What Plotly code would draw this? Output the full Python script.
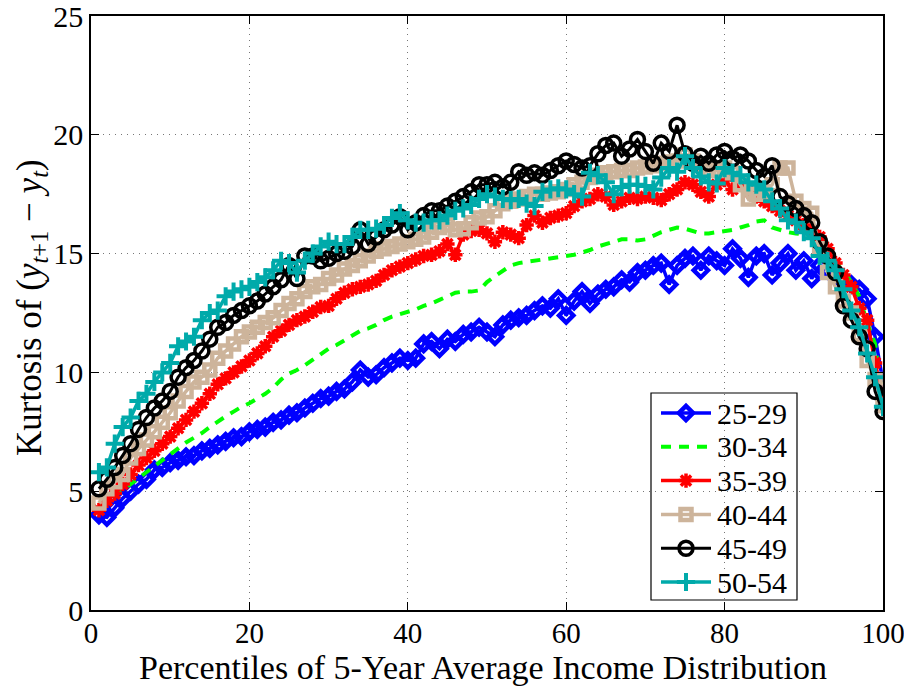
import plotly.graph_objects as go

percentiles = list(range(1, 101))

age_25_29 = [4.0, 3.9, 4.3, 4.7, 5.0, 5.3, 5.5, 5.9, 6.0, 6.2,
             6.3, 6.45, 6.5, 6.7, 6.8, 6.95, 7.1, 7.25, 7.3, 7.5,
             7.6, 7.7, 7.9, 8.0, 8.2, 8.3, 8.5, 8.7, 8.9, 9.0,
             9.2, 9.3, 9.6, 10.1, 9.8, 9.9, 10.2, 10.4, 10.6, 10.5,
             10.6, 11.2, 11.3, 11.0, 11.4, 11.3, 11.6, 11.7, 11.9, 11.7,
             11.5, 12.0, 12.2, 12.3, 12.4, 12.6, 12.8, 12.7, 13.1, 12.4,
             13.0, 13.4, 12.9, 13.3, 13.5, 13.6, 13.9, 13.8, 14.2, 14.3,
             14.5, 14.6, 13.7, 14.5, 14.8, 14.9, 14.3, 14.9, 14.7, 14.5,
             15.2, 14.8, 14.0, 14.9, 15.0, 14.1, 14.6, 15.0, 14.3, 14.7,
             13.95, 14.5, 14.3, 14.1, 13.8, 13.7, 13.5, 13.1, 11.5, 9.6]

age_30_34 = [4.3, 4.5, 4.8, 5.05, 5.3, 5.6, 5.85, 6.1, 6.35, 6.6,
             6.8, 7.05, 7.25, 7.45, 7.7, 7.95, 8.15, 8.35, 8.55, 8.7,
             8.9, 9.1, 9.35, 9.7, 9.95, 10.1, 10.3, 10.55, 10.8, 11.0,
             11.15, 11.35, 11.55, 11.75, 11.85, 12.0, 12.2, 12.35, 12.45, 12.55,
             12.65, 12.8, 12.9, 13.05, 13.2, 13.35, 13.4, 13.4, 13.45, 13.8,
             14.05, 14.3, 14.5, 14.6, 14.65, 14.7, 14.75, 14.8, 14.85, 14.9,
             14.95, 15.05, 15.15, 15.3, 15.4, 15.5, 15.6, 15.6, 15.55, 15.6,
             15.75, 15.9, 16.0, 16.1, 16.05, 15.95, 15.85, 15.85, 15.9, 15.95,
             16.0, 16.1, 16.2, 16.35, 16.4, 16.1, 16.0, 15.9, 15.85, 15.8,
             15.7, 15.4, 15.0, 14.7, 14.3, 13.8, 13.2, 12.1, 11.2, 8.8]

age_35_39 = [4.2, 4.6, 4.9, 5.3, 5.7, 6.1, 6.4, 6.7, 7.0, 7.3,
             7.65, 8.0, 8.35, 8.7, 9.1, 9.5, 9.75, 10.0, 10.25, 10.5,
             10.8, 11.1, 11.5, 11.75, 12.0, 12.2, 12.35, 12.55, 12.75, 12.8,
             13.1, 13.35, 13.5, 13.6, 13.7, 13.85, 14.1, 14.3, 14.45, 14.6,
             14.75, 14.9, 14.95, 15.1, 15.4, 14.95, 15.8, 15.95, 16.0, 15.85,
             15.5, 15.9, 15.8, 15.65, 16.2, 16.6, 16.3, 16.5, 16.6, 16.7,
             17.0, 17.2, 17.3, 17.5, 17.4, 17.05, 17.2, 17.35, 17.3, 17.4,
             17.35, 17.25, 17.5, 17.7, 18.0, 17.9, 17.6, 17.4, 17.9, 18.1,
             17.7, 17.9, 17.6, 17.4, 17.2, 17.0, 16.8, 16.6, 16.4, 16.2,
             15.95, 15.7, 15.2, 14.6, 14.1, 13.6, 12.7, 12.2, 10.4, 9.0]

age_40_44 = [4.5, 5.1, 5.4, 5.7, 6.4, 6.8, 7.15, 7.5, 7.9, 8.3,
             8.8, 9.2, 9.6, 9.8, 10.1, 10.6, 10.9, 11.2, 11.5, 11.7,
             11.9, 12.1, 12.3, 12.6, 12.9, 13.1, 13.4, 13.6, 13.7, 13.95,
             14.1, 14.35, 14.5, 14.7, 14.9, 15.1, 15.2, 15.3, 15.4, 15.5,
             15.6, 15.7, 15.9, 16.1, 16.2, 16.0, 16.05, 16.3, 16.5, 16.55,
             16.8, 17.1, 17.2, 17.3, 17.4, 17.5, 17.5, 17.55, 17.6, 17.7,
             17.9, 18.0, 18.2, 18.3, 18.4, 18.45, 18.5, 18.5, 18.6, 18.65,
             18.7, 18.8, 18.85, 18.9, 19.15, 18.9, 18.7, 18.5, 18.5, 18.6,
             18.4, 17.9, 17.3, 17.5, 17.6, 17.9, 18.6, 18.6, 17.2, 16.9,
             16.7, 15.2, 14.2, 13.6, 13.0, 12.5, 11.6, 10.5, 9.7, 8.6]

age_45_49 = [5.1, 5.5, 6.0, 6.5, 7.0, 7.6, 8.1, 8.5, 8.8, 9.2,
             9.8, 10.2, 10.5, 10.9, 11.4, 11.9, 12.1, 12.4, 12.6, 12.8,
             13.0, 13.3, 13.6, 13.9, 14.5, 13.95, 14.9, 14.9, 14.7, 14.8,
             15.0, 15.1, 15.3, 16.0, 15.4, 15.7, 16.0, 16.2, 16.55, 16.0,
             16.3, 16.6, 16.8, 16.8, 17.0, 17.2, 17.4, 17.6, 17.9, 17.9,
             18.0, 17.8, 18.0, 18.45, 18.3, 18.4, 18.3, 18.5, 18.7, 18.9,
             18.75, 18.6, 18.7, 19.2, 19.55, 19.65, 19.1, 19.4, 19.8, 19.3,
             18.8, 19.65, 19.3, 20.4, 19.2, 18.8, 19.1, 18.8, 19.15, 19.3,
             19.0, 19.15, 18.9, 18.5, 18.25, 18.7, 17.4, 17.1, 16.9, 16.6,
             16.3, 15.5, 14.9, 14.2, 12.8, 12.2, 11.5, 11.0, 9.2, 8.35]

age_50_54 = [5.8, 6.0, 7.0, 7.7, 8.1, 8.8, 9.1, 9.6, 10.0, 10.4,
             11.1, 11.3, 11.5, 12.2, 12.5, 12.6, 13.2, 13.4, 13.5, 13.6,
             13.8, 14.0, 14.3, 14.7, 14.6, 14.2, 14.7, 15.0, 15.3, 15.5,
             15.4, 15.4, 15.7, 16.0, 16.0, 16.05, 16.2, 16.5, 16.7, 16.4,
             16.3, 16.3, 16.4, 16.4, 16.6, 16.8, 16.9, 17.05, 17.3, 17.5,
             17.4, 17.3, 17.25, 17.3, 17.1, 17.0, 17.6, 17.7, 17.75, 17.7,
             17.5, 17.4, 18.4, 18.3, 18.0, 17.5, 17.8, 17.9, 17.9, 17.85,
             17.7, 18.2, 18.6, 18.45, 19.1, 18.6, 18.25, 18.0, 17.95, 18.6,
             18.4, 18.3, 18.0, 17.9, 17.7, 17.2, 16.9, 16.4, 16.3, 15.9,
             15.65, 14.9, 14.7, 14.3, 13.5, 12.6, 11.9, 10.8, 9.8, 8.55]

series_names = ["25-29", "30-34", "35-39", "40-44", "45-49", "50-54"]
x_ticks = [0, 20, 40, 60, 80, 100]
y_ticks = [0, 5, 10, 15, 20, 25]

styles = [
    dict(line=dict(color="#0000ff", width=3.5),
         marker=dict(symbol="diamond-open", size=11, color="#0000ff", line=dict(color="#0000ff", width=4.5))),
    dict(line=dict(color="#00ff00", width=4, dash="10px,8px"), marker=None),
    dict(line=dict(color="#ff0000", width=3.5),
         marker=dict(symbol="asterisk-open", size=12, color="#ff0000", line=dict(color="#ff0000", width=3.5))),
    dict(line=dict(color="#cdb49b", width=3.5),
         marker=dict(symbol="square-open", size=11, color="#cdb49b", line=dict(color="#cdb49b", width=4.5))),
    dict(line=dict(color="#000000", width=3),
         marker=dict(symbol="circle-open", size=14, color="#000000", line=dict(color="#000000", width=3.5))),
    dict(line=dict(color="#00aaaa", width=3.5),
         marker=dict(symbol="cross-thin-open", size=13, color="#00aaaa", line=dict(color="#00aaaa", width=4))),
]
all_series = [age_25_29, age_30_34, age_35_39, age_40_44, age_45_49, age_50_54]

fig = go.Figure()
for name, vals, st in zip(series_names, all_series, styles):
    if st["marker"] is None:
        fig.add_trace(go.Scatter(x=percentiles, y=vals, name=name, mode="lines",
                                 line=st["line"], showlegend=False))
    else:
        fig.add_trace(go.Scatter(x=percentiles, y=vals, name=name, mode="lines+markers",
                                 line=st["line"], marker=st["marker"], showlegend=False))

# ---- legend box drawn by hand (page pixels -> axis fractions) ----
PL, PR, PT, PB = 91, 883, 16, 610
def fx(px):
    return (px - PL) / (PR - PL)
def fy(py):
    return (PB - py) / (PB - PT)

leg_box = (651, 393, 797, 600)
row_y0, row_pitch = 413, 33.8
seg_x0, seg_x1, text_x = 661, 711, 715

shapes = [dict(type="rect", xref="paper", yref="paper",
               x0=fx(leg_box[0]), x1=fx(leg_box[2]), y0=fy(leg_box[3]), y1=fy(leg_box[1]),
               fillcolor="white", line=dict(color="black", width=1.2), layer="between")]
annotations = []
for i, (name, st) in enumerate(zip(series_names, styles)):
    yy = fy(row_y0 + i * row_pitch)
    fig.add_trace(go.Scatter(x=[fx(seg_x0), fx(seg_x1)], y=[yy, yy], xaxis="x2", yaxis="y2",
                             mode="lines", line=st["line"], showlegend=False, hoverinfo="skip"))
    if st["marker"] is not None:
        fig.add_trace(go.Scatter(x=[fx((seg_x0 + seg_x1) / 2)], y=[yy], xaxis="x2", yaxis="y2",
                                 mode="markers", marker=st["marker"], showlegend=False,
                                 hoverinfo="skip"))
    annotations.append(dict(xref="paper", yref="paper", x=fx(text_x), y=yy,
                            xanchor="left", yanchor="middle", text=name, showarrow=False,
                            font=dict(size=30, family="Liberation Serif, serif", color="black")))

font_family = "Liberation Serif, DejaVu Serif, serif"

annotations.append(dict(xref="paper", yref="paper", x=fx(483), y=fy(667),
                        xanchor="center", yanchor="middle", showarrow=False,
                        text="Percentiles of 5-Year Average Income Distribution",
                        font=dict(size=34, family=font_family, color="black")))
annotations.append(dict(xref="paper", yref="paper", x=fx(31), y=fy(308),
                        xanchor="center", yanchor="middle", showarrow=False, textangle=-90,
                        text="Kurtosis of (<i>y</i><sub><i>t</i>+1</sub> − <i>y</i><sub><i>t</i></sub>)",
                        font=dict(size=35, family=font_family, color="black")))

# the page has an 8px body margin, so the figure is 8px smaller and offset
fig.update_layout(
    width=904, height=679,
    margin=dict(l=83, r=29, t=8, b=77, autoexpand=False),
    paper_bgcolor="white", plot_bgcolor="white",
    font=dict(family=font_family, color="black", size=30),
    showlegend=False,
    shapes=shapes,
    annotations=annotations,
    xaxis2=dict(overlaying="x", range=[0, 1], visible=False, fixedrange=True),
    yaxis2=dict(overlaying="y", range=[0, 1], visible=False, fixedrange=True),
)
fig.layout.xaxis.update(
    range=[0, 100], tickvals=x_ticks, ticktext=[str(v) for v in x_ticks],
    showgrid=True, gridcolor="#777777", griddash="1px,5px", gridwidth=1,
    showline=True, linecolor="black", linewidth=1.5, mirror="ticks",
    ticks="inside", ticklen=8, tickcolor="black",
    tickfont=dict(size=29, family=font_family), ticklabelstandoff=-4,
    zeroline=False, automargin=False, ticklabeloverflow="allow",
)
fig.layout.yaxis.update(
    range=[0, 25], tickvals=y_ticks, ticktext=[str(v) for v in y_ticks],
    showgrid=True, gridcolor="#777777", griddash="1px,5px", gridwidth=1,
    showline=True, linecolor="black", linewidth=1.5, mirror="ticks",
    ticks="inside", ticklen=8, tickcolor="black",
    tickfont=dict(size=30, family=font_family),
    zeroline=False, automargin=False, ticklabeloverflow="allow",
)

fig.write_html("out.html")
